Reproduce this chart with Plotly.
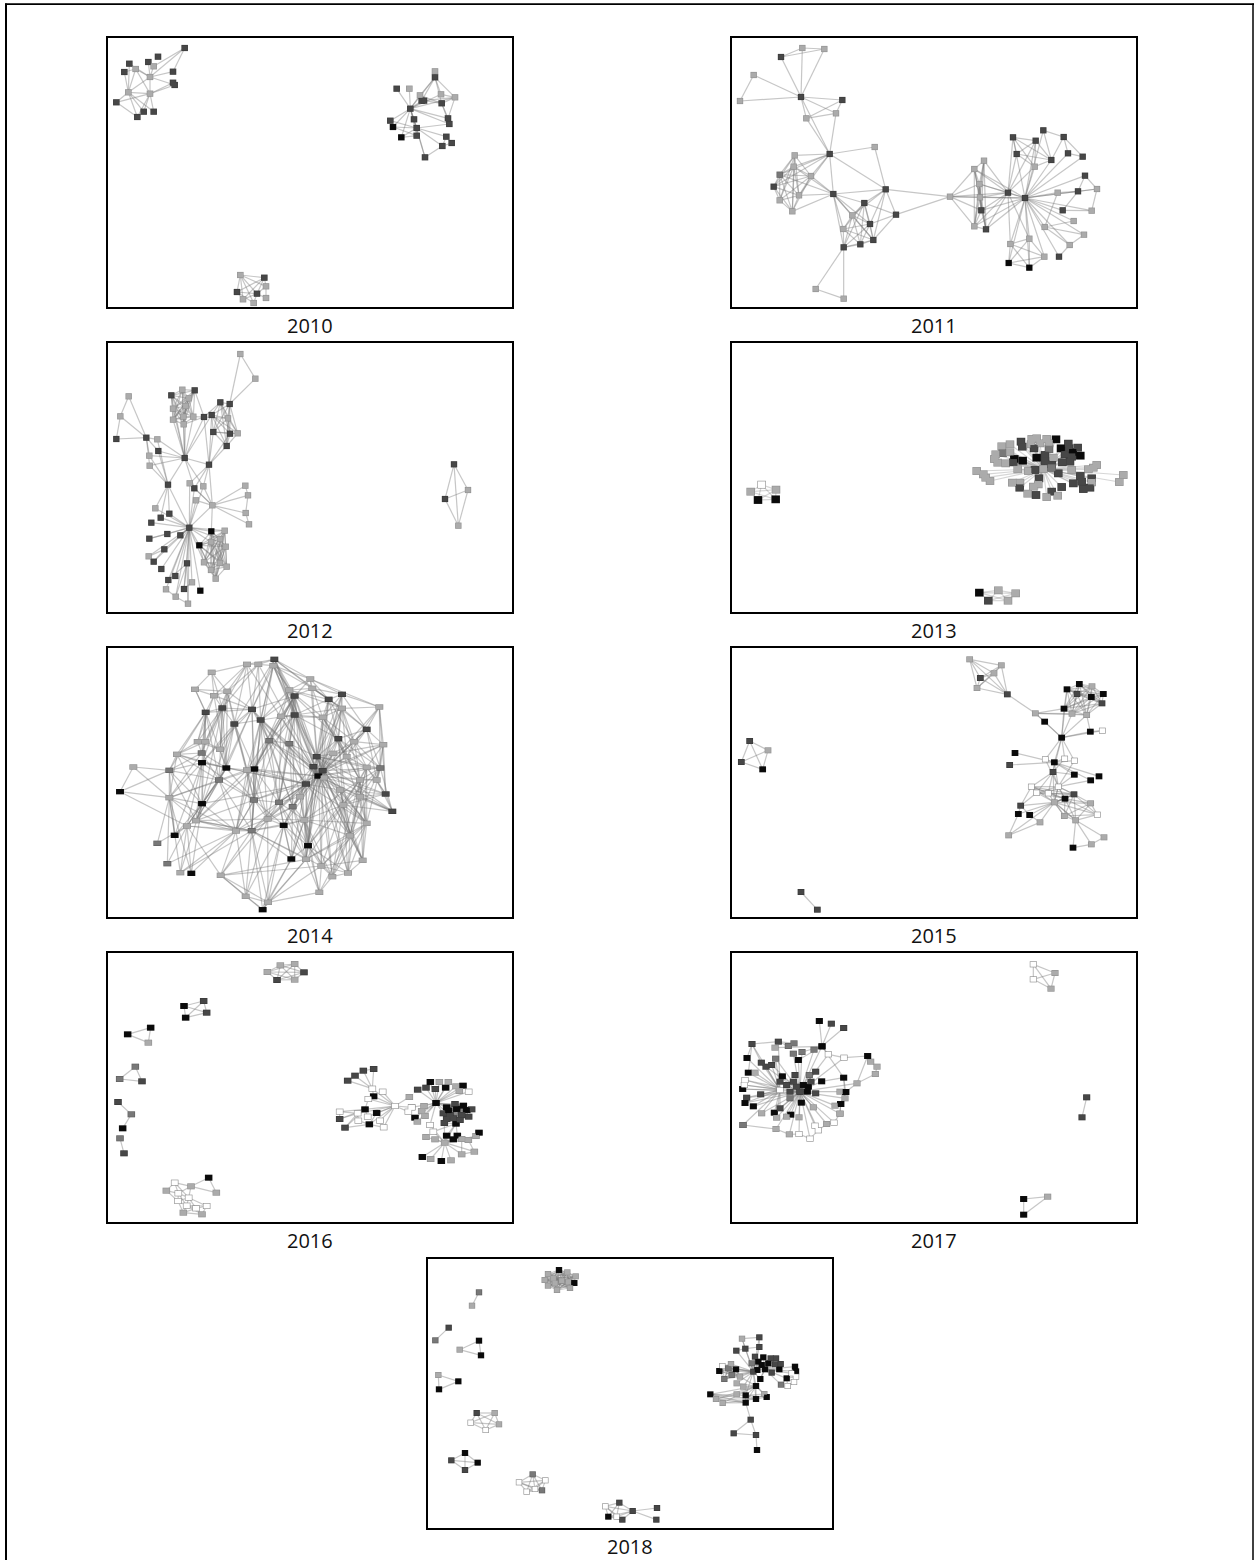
import plotly.graph_objects as go

YEARS = [2010, 2011, 2012, 2013, 2014, 2015, 2016, 2017, 2018]

# ---- node lists: (x, y, shade level 0 white .. 4 black) ----
N2010 = [(254,54,3),(174,80,3),(88,101,3),(145,96,3),(161,109,1),(107,117,1),(73,126,3),(150,141,1),(219,125,3),(219,158,3),
 (224,165,3),(85,187,1),(150,191,1),(49,217,3),(131,245,3),(161,245,3),(112,261,3),(1005,124,1),(1005,142,3),(890,176,3),
 (928,176,1),(960,196,1),(1023,193,1),(1065,202,1),(965,212,3),(972,212,3),(1025,220,3),(931,236,3),(871,272,3),(942,268,3),
 (1044,265,3),(1048,282,3),(879,291,4),(950,294,3),(950,317,3),(904,322,4),(1039,320,3),(1055,339,3),(1027,348,3),(975,382,3),
 (421,735,1),(493,743,3),(498,769,1),(411,786,3),(471,791,3),(498,804,1),(429,808,1),(461,819,1)]
L2010 = [(7,[5,4,3,8,10,2,12,11,0]),(5,[2,6,11,12]),(11,[6,13,14,16,12,15,2]),(12,[9,10,15,14,16,13]),(0,[8,4]),(13,[16]),
 (27,[19,20,21,24,25,18,22,23,30,31,29,33,28,32,35,34,39]),(18,[17,21,22,24,26]),(23,[18,22,25,26,30]),(26,[30,31,25,21]),
 (33,[28,32,31,36,38,39,34,29,35]),(39,[38]),(38,[36,37]),(36,[37]),(34,[32,35]),
 (40,[41,42,43,44,46,47]),(41,[42,44,46,43]),(42,[45,44]),(43,[46,44,47]),(44,[46,47,45])]

N2011 = [(232,54,1),(298,57,1),(168,81,3),(86,135,1),(45,213,1),(228,201,3),(352,210,3),(333,250,1),(244,265,1),(314,372,3),
 (449,351,1),(209,376,1),(206,410,1),(164,434,2),(258,438,1),(146,470,3),(222,496,1),(164,511,1),(202,544,1),(325,492,3),
 (482,478,3),(418,519,3),(513,554,3),(382,556,1),(435,582,3),(355,597,1),(445,630,3),(406,643,3),(356,652,3),(272,777,1),
 (356,806,1),(675,500,1),(777,392,1),(748,417,1),(763,462,1),(765,502,1),(769,541,3),(748,589,1),(783,598,3),(849,488,3),
 (900,504,3),(864,322,3),(932,332,3),(955,301,3),(1016,321,3),(875,372,3),(979,390,3),(929,410,1),(1029,370,3),(1073,380,3),
 (1080,437,3),(998,488,1),(1059,484,3),(1116,477,1),(1013,541,3),(1100,542,1),(1046,573,1),(959,591,1),(1077,614,1),(1034,645,1),
 (1002,680,3),(913,626,1),(856,642,1),(958,680,1),(851,699,4),(913,713,4)]
L2011 = [(5,[0,1,2,3,4,6,7,8,9]),(0,[1,2]),(2,[1]),(3,[4]),(6,[7,8]),(7,[8,9]),(8,[9]),
 (9,[10,11,12,13,14,19,20,15,16]),(10,[20]),(None,[11,12,13,14,15,16,17,18]),
 (19,[12,14,16,18,13,20,21,23,24,25,28,26]),(None,[21,23,24,25,26,27,28]),(20,[21,22,23,24,26,31]),(22,[21,24,26,31]),
 (28,[29,30]),(29,[30]),(31,[33,34,35,36,37,39,40]),(None,[32,33,34,35,36,37,38]),
 (39,[33,34,35,36,37,38,32,40,41,45,47,61,62,42]),
 (40,[33,34,35,36,37,38,42,43,46,47,48,49,50,51,52,53,54,55,56,57,58,59,60,41,61,62,63,65,64]),
 (None,[41,42,45,46,47]),(43,[44,46]),(44,[48,49,46]),(48,[49]),(50,[53,52]),(52,[53,54,51]),(53,[55]),(54,[55]),(51,[57]),
 (57,[58,56,59]),(58,[59]),(59,[60]),(None,[61,62,63,64,65])]

N2012 = [(421,57,1),(466,131,1),(86,184,1),(61,244,1),(49,312,3),(139,308,3),(172,313,1),(175,348,3),(148,362,1),(149,392,1),
 (254,369,3),(327,389,3),(204,449,3),(214,181,3),(247,164,1),(284,166,3),(266,190,1),(219,221,1),(257,213,1),(219,254,1),
 (250,245,1),(280,245,1),(251,268,1),(312,246,3),(335,240,3),(361,202,3),(389,207,3),(384,250,1),(340,291,3),(390,296,3),
 (413,295,1),(380,333,3),(269,445,1),(283,460,3),(310,454,1),(288,496,1),(337,511,1),(436,452,1),(444,481,1),(437,534,1),
 (447,568,1),(166,520,1),(208,536,3),(182,548,3),(154,563,3),(268,578,3),(202,597,3),(241,601,3),(148,611,3),(193,643,3),
 (334,589,4),(374,587,1),(360,612,1),(333,621,1),(298,631,4),(377,635,1),(146,664,1),(161,680,3),(184,702,3),(261,685,3),
 (312,682,1),(360,684,1),(380,695,1),(333,705,1),(226,723,3),(205,735,3),(347,731,1),(276,742,1),(198,763,1),(252,762,3),
 (301,767,4),(227,785,1),(264,806,1),(1062,388,3),(1104,465,1),(1035,492,3),(1075,572,1)]
L2012 = [(0,[1,26]),(1,[26]),(2,[3,5]),(3,[4,5]),(4,[5]),(5,[6,7,8,9]),
 (10,[6,7,8,9,12,13,17,19,20,22,21,18,23,24,11,33,34]),(12,[6,7,8,9,45,41,42,43]),(11,[23,24,28,31,29,36,34,33,32]),
 (None,[13,14,15,16,17,18,19,20,21,22]),(23,[15,21,22,25,27]),(None,[24,25,26,27,28,29,30,31]),
 (36,[37,38,39,40,32,33,34,35,45,50]),(37,[38]),(38,[39]),(39,[40]),
 (45,[32,33,34,35,41,42,43,44,46,47,48,49,56,57,58,59,64,65,67,68,69,70,71,72,50,51,53,52,54,60]),
 (None,[50,51,52,53,55,60,61,62,63,66,54]),(46,[48]),(49,[56,57]),(59,[65,69,72,71]),(68,[71]),(71,[72]),(67,[69]),
 (73,[74,75,76]),(74,[75,76]),(75,[76])]

N2013_LEFT = [(110,449,0),(77,470,1),(153,464,1),(99,495,4),(152,493,4)]
N2013_BOTTOM = [(763,773,4),(820,766,1),(872,775,1),(790,797,3),(849,797,1)]
N2013_MAIN = [(955,402,1),(1000,415,3),(888,320,3),(920,312,1),(935,310,1),(965,312,1),(993,313,4),(830,334,1),(855,328,1),(892,335,3),
 (918,328,1),(945,325,1),(972,325,1),(1030,326,3),(833,354,2),(855,352,1),(927,340,3),(972,342,2),(1008,340,4),(1032,340,3),
 (1058,338,3),(812,358,1),(808,372,1),(868,372,4),(893,377,4),(935,368,4),(960,360,3),(985,368,1),(1020,358,3),(1043,352,4),
 (1066,362,4),(1040,365,3),(818,383,1),(842,385,1),(865,382,3),(960,378,3),(980,388,3),(1012,382,3),(1035,380,3),(1115,390,1),
 (1105,398,1),(755,408,1),(878,403,1),(910,408,1),(930,405,3),(980,398,2),(1040,405,1),(1090,403,1),(775,418,1),(782,428,1),
 (795,438,1),(942,430,3),(1066,423,3),(1100,430,3),(1195,420,1),(1183,441,1),(862,443,1),(885,443,1),(940,448,1),(1045,445,3),
 (1070,440,3),(1100,442,1),(884,458,3),(925,455,1),(980,470,3),(1010,456,3),(1095,458,3),(1075,462,3),(908,476,1),(933,480,3),
 (965,486,1),(998,482,1)]

N2014 = [(523,58,3),(441,73,1),(475,73,1),(520,77,1),(335,97,1),(631,117,1),(285,148,1),(637,145,1),(382,154,1),(568,150,1),
 (726,163,3),(342,167,1),(584,168,3),(686,178,3),(838,201,1),(367,204,3),(456,208,3),(726,205,1),(317,217,3),(584,225,3),
 (543,229,1),(668,232,1),(482,240,3),(403,252,3),(800,268,3),(715,296,3),(293,305,1),(316,305,1),(508,302,2),(568,311,2),
 (850,314,1),(763,305,1),(360,328,1),(305,339,2),(231,343,1),(650,350,3),(306,368,4),(100,381,1),(208,391,2),(379,384,4),
 (463,387,4),(441,390,1),(841,384,2),(800,382,1),(668,392,3),(655,408,4),(672,413,1),(357,420,2),(618,432,3),(780,420,1),
 (60,455,4),(857,462,3),(208,473,1),(462,480,2),(537,487,2),(578,500,2),(306,491,4),(877,514,3),(730,495,1),(288,542,1),
 (503,537,1),(551,556,4),(613,540,1),(800,550,1),(261,558,1),(408,573,1),(455,572,2),(224,586,4),(750,587,1),(172,610,2),
 (624,617,4),(574,657,4),(618,658,1),(788,661,1),(202,671,2),(664,678,1),(241,698,1),(274,700,4),(744,699,1),(362,706,1),
 (697,710,1),(658,757,1),(437,769,1),(504,787,1),(488,809,4),(700,340,1),(640,380,3),(740,350,1),(720,450,1),(600,470,1),
 (780,470,1),(830,420,1)]
L2014 = [(45,[0,1,2,3,5,7,9,10,12,13,14,16,17,19,20,21,22,24,25,28,29,30,31,40,41,42,43,49,51,53,54,55,57,58,60,61,62,63,68,70,71,72,73,75,78,80]),
 (48,[12,16,22,28,29,40,41,53,54,55,60,61,66,65,70,71,72,56,36,39,63,68]),
 (44,[0,3,13,10,17,21,24,30,42,51,57,63,73,78,80,68,70,75]),
 (16,[0,1,2,3,8,11,15,18,22,23,28,36,39,40,47,53]),
 (15,[1,2,4,8,11,18,23,32,33,36,39,47,56,26,27]),
 (18,[6,11,26,27,33,36,39,47,56,34,38]),
 (23,[0,1,8,22,32,36,39,40,41,47,53,59]),
 (36,[34,38,52,56,59,64,67,39]),
 (40,[3,9,12,19,20,28,53,59,60,65,66,52]),
 (66,[59,64,65,79,82,83,84,53,54,61,62,71,72,75,76]),
 (65,[64,74,76,79,82,59,52,77,53]),(79,[84,82,83,75,64]),
 (52,[34,37,50,67,69,74,76,77,38]),(38,[34,37,50,67]),(37,[50]),(50,[64]),
 (64,[67,76,77,74,69]),(34,[26,27,33,39,47]),
 (71,[84,83,54,55]),(70,[72,75,78,80,81,55,54,61,62,71]),(75,[81,83,78,80,73]),(80,[81,78]),(78,[73,63,68]),(73,[63,68]),
 (0,[5,7,9,13,12,19,1,2,3]),(5,[7,10,13,14,12,9]),(10,[14,13,17,25,21,24]),(14,[24,30,51,42]),(24,[30,25,31,42]),
 (25,[19,21,17,13,12,35,48,49,43,42,58,63,68]),(30,[42,51]),(51,[57,58]),
 (1,[4,11,8]),(4,[6,11,8]),(6,[8,11,18]),(19,[9,12,20,28,29,35]),(29,[28,35,54,55]),(28,[53,54,55]),
 (35,[13,10,21,17,12,43,49,30,42,57,63,73,58,62,70,72]),(84,[83,82]),(82,[83]),
 (12,[16,22,20,28,29,40,41,53,54,60,62,9,7]),(22,[0,3,9,19,28,29,41,53,54,55,60,65,66]),
 (53,[36,39,41,47,54,60,65,66,59,61]),(54,[19,20,40,61,62,60,72]),(55,[19,61,62,60,72,66]),
 (42,[31,43,49,58,63,68,57]),(43,[31,49,58,63,68,73,30,51]),(49,[17,21,31,58,63,68,78,73,80,70,62]),
 (58,[62,63,68,70,72,73,75,78,80,57]),(63,[62,68,72,75,80]),(68,[62,72,75,80,81]),(62,[72,75,80,81,71,61]),
 (13,[7,9,17,19,21,31,24]),(17,[7,9,19,21,31,24,14]),(21,[7,9,19,20,31]),(31,[30,14]),
 (39,[8,11,32,33,41,47,56,59,64]),(41,[8,47,59,65,66,60]),(47,[38,52,56,59,64,65,66]),(56,[34,38,52,59,64,65,67,76,77]),
 (33,[26,27,38,47,52]),(59,[52,64,66,60,38]),(60,[61,62,65,82,83,79]),(61,[71,72,84,83,82]),(72,[81,83,79,84]),(83,[81]),
 (26,[27,32,11]),(8,[11,32,27]),(27,[32]),(2,[3,1,8,22]),(3,[12,19,7,5,9]),(9,[7,20]),(7,[10,13]),
 (85,[25,31,44,45,48,58,62]),(86,[44,45,48,28,29,54,55,70]),(87,[17,21,24,25,31,43,44,45,49]),(88,[44,45,48,51,57,58,63,68,70]),
 (89,[45,48,29,54,55,62,70]),(90,[42,43,49,51,57,58,63,68,45]),(91,[24,30,42,43,45,49,51,57])]

N2015 = [(734,58,1),(829,76,1),(807,100,1),(766,114,3),(756,144,1),(847,163,3),(1063,132,4),(1101,139,1),(1026,148,4),(1056,162,3),
 (1135,162,4),(1099,171,4),(1131,190,3),(1017,206,4),(931,220,1),(1041,221,1),(1085,225,1),(959,245,4),(1096,275,4),(1132,272,0),
 (1010,293,4),(870,339,4),(854,375,3),(961,358,0),(988,367,4),(1019,356,0),(1048,362,0),(984,396,3),(1048,404,4),(1097,421,4),
 (1122,409,4),(919,440,0),(1000,440,0),(935,458,0),(970,460,0),(1047,463,3),(1020,476,4),(988,487,1),(1097,490,1),(887,497,3),
 (880,522,4),(914,525,4),(1018,528,1),(1052,541,1),(1117,524,0),(945,547,1),(851,586,1),(1137,592,1),(1099,613,1),(1044,623,4),
 (74,303,3),(129,331,1),(49,366,3),(113,388,4),(228,756,3),(277,809,3)]
L2015 = [(None,[0,1,2,3,4,5]),(5,[14]),(14,[13,15,17,16]),(20,[14,13,15,16,17,18,19,23,24,25,26,27,8]),
 (None,[6,7,8,9,10,11,12,13,15,16]),(18,[19,16]),(21,[24]),(22,[24]),(24,[23,25,26,27,28,29,30,32]),
 (27,[31,33,34,28,25,32,37]),(32,[28,29,36,35,23,26,37]),(None,[31,33,34,36,37,32,35]),
 (37,[39,40,41,45,46,42,43]),(39,[41,40,33,31]),(40,[46]),(41,[45]),(45,[46]),(None,[36,35,38,42,43,44,37]),
 (43,[47,48,49]),(47,[48]),(48,[49]),(None,[50,51,52,53]),(54,[55])]

N2016_TOP = [(502,81,1),(541,61,1),(584,57,1),(612,82,3),(531,105,3),(584,104,1)]
N2016_A = [(252,183,4),(311,168,3),(320,203,3),(257,218,4)]
N2016_B = [(83,268,4),(152,248,4),(145,293,1)]
N2016_C = [(106,365,2),(59,402,2),(126,409,3)]
N2016_D = [(54,471,3),(94,508,2),(68,550,4)]
N2016_E = [(60,580,2),(72,625,3)]
N2016_F = [(326,698,4),(224,713,0),(273,724,1),(199,737,1),(349,743,1),(235,745,0),(266,758,0),(234,768,0),(260,782,0),(320,783,0),(250,803,1),(306,808,1),(288,790,0)]
L2016_F = [(0,[2,4]),(2,[1,4,5,6]),(1,[3,5,6]),(3,[5,7]),(5,[6,7,8]),(6,[7,8,9,12]),(7,[8,10]),(8,[9,10,11,12]),(9,[11,12]),(10,[11,12]),(11,[12])]
N2016_MID = [(885,483,0),(743,407,3),(765,392,3),(790,377,3),(821,372,3),(817,431,0),(848,440,0),(821,454,4),(805,462,0),(795,493,4),
 (830,504,4),(719,500,0),(803,515,0),(719,522,3),(840,527,0),(808,538,4),(735,548,3),(851,547,0),(773,505,0),(775,527,0),
 (928,456,1),(935,487,0),(925,500,0)]
L2016_MID = [(0,[5,6,7,8,9,10,12,14,17,18,20,21,22,15]),(5,[1,2,3,4,7]),(1,[2]),(2,[3]),(3,[4]),(9,[11,13,16,12,18,8]),(11,[13]),(18,[11,13,19,16]),(15,[16,19,10,17])]
N2016_RIGHT = [(1008,474,4),(953,434,3),(978,428,3),(991,411,4),(1006,432,3),(1018,411,1),(1045,411,1),(1037,428,4),(1068,424,1),(1089,422,4),
 (1078,438,1),(1106,440,0),(972,483,1),(965,498,1),(975,513,1),(945,518,4),(952,530,1),(990,540,0),(1000,560,0),(1033,534,3),
 (1068,536,4),(1040,487,4),(1065,477,3),(1090,482,4),(1115,493,3),(1030,505,3),(1050,510,3),(1070,492,4),(1100,495,4),(1085,510,3),
 (1106,515,3),(1045,497,4),(1060,520,3),(1080,525,3),(1040,522,3),(978,576,1),(1005,583,1),(1040,572,4),(1072,572,4),(1060,583,4),
 (1034,593,1),(1085,582,1),(1105,585,1),(1128,573,1),(1137,563,4),(1085,628,1),(1123,620,1),(967,636,4),(992,642,1),(1024,648,4),
 (1053,646,1),(935,487,0)]
L2016_RIGHT = [(0,[1,2,3,4,5,6,7,8,9,10,11,12,13,14,15,16,17,51,21,22,23,24,25,26,27]),
 (40,[47,48,49,50,35,36,37,38,39,41,42,45,46,17,18,19,20]),(None,[21,22,23,24,25,26,27,28,29,30,31,32,33,34]),
 (20,[19,38,37,18]),(43,[44,41,42]),(45,[46,41]),(42,[46])]

N2017_TR = [(925,58,0),(990,84,1),(925,103,0),(978,131,1)]
N2017_R = [(1085,457,3),(1071,517,3)]
N2017_BR = [(896,762,4),(968,755,1),(896,809,4)]
N2017_MAIN = [(225,440,3),(165,435,0),(291,304,4),(283,228,4),(319,236,3),(356,249,3),(81,297,3),(160,290,3),(190,303,2),(207,295,2),
 (267,314,2),(231,321,2),(205,326,2),(150,308,1),(220,345,4),(66,339,4),(152,341,2),(109,353,3),(123,365,3),(140,360,3),
 (70,383,4),(90,383,1),(172,394,4),(210,390,3),(253,390,2),(272,380,3),(356,398,4),(290,409,4),(53,432,4),(60,405,0),
 (58,420,0),(165,410,3),(185,420,3),(205,410,3),(215,425,3),(235,420,4),(250,425,4),(258,410,3),(195,440,3),(247,440,4),
 (272,445,3),(107,448,3),(65,458,3),(60,474,4),(85,484,4),(195,460,2),(229,473,4),(362,441,4),(345,440,1),(360,460,1),
 (347,477,4),(330,482,1),(265,487,1),(345,506,1),(110,505,1),(148,503,4),(197,509,4),(165,490,3),(155,518,1),(185,515,1),
 (222,517,1),(54,540,2)]
L2017_MAIN = [(0,[2,10,11,12,14,16,18,19,22,23,24,25,27,28,29,30,31,32,33,34,35,36,37,38,39,40,41,42,43,44,45,46,48,49,51,52,54,55,56,57,58,59,60]),(1,[6,7,15,20,21,28,29,30,41,42,43,44,54,55,57,58,61,16,17,18,19]),(2,[3,4,5,10,11,13,14,26]),(6,[7,17,15,20]),(7,[8,9,13]),(26,[27,47,49]),(47,[48,49,50]),(50,[51,53])]
N2017_RING = [(225,440,3),(54,540,2),(153,552,1),(193,568,1),(222,567,0),(255,581,0),(280,556,0),(270,542,0),(305,537,1),(327,533,0),
 (345,506,1),(347,477,4),(362,441,4),(396,415,1),(451,387,1),(456,365,1),(437,350,1),(428,333,4),(357,338,0),(310,328,0),(291,304,4)]
L2017_RING = [(0,[2,3,4,5,6,7,8,9,10,13,18,19]),(1,[2]),(2,[3]),(3,[4]),(4,[5]),(5,[6]),(6,[7,8]),(8,[9]),(9,[10]),(10,[11]),(11,[12]),(12,[13]),(13,[14,17]),(14,[15]),(15,[16]),(16,[17]),(17,[18]),(18,[19]),(19,[20])]

N2018_A = [(177,127,2),(156,167,1)]
N2018_B = [(86,233,3),(46,271,2)]
N2018_C = [(177,272,4),(119,299,1),(183,316,4)]
N2018_D = [(55,375,1),(115,394,4),(57,418,4)]
N2018_E = [(170,489,3),(224,489,1),(152,518,0),(237,523,1),(197,540,0)]
N2018_F = [(135,609,4),(94,631,3),(173,638,4),(135,660,3)]
N2018_G = [(338,673,2),(297,697,0),(376,691,0),(320,725,0),(345,717,0),(366,721,2)]
N2018_H = [(598,758,3),(556,769,0),(638,783,3),(565,800,4),(590,800,0),(607,809,3),(711,774,3),(709,809,3)]
L2018_H = [(2,[0,1,3,4,5,6,7]),(0,[1,3,4]),(1,[3,4,5]),(3,[4,5]),(4,[5])]
N2018_TOP = [(417,60,4),(384,72,1),(442,67,1),(467,79,1),(374,90,1),(400,85,1),(425,92,1),(445,95,1),(463,99,4),(384,107,1),(411,120,1),(450,114,1),(405,100,1)]
N2018_MAIN = [(1000,365,3),(1035,358,4),(966,266,1),(1018,262,3),(976,296,3),(1018,291,3),(949,302,3),(1005,320,3),(1030,322,4),(1052,325,3),
 (1068,325,3),(995,340,2),(1015,335,4),(1045,340,4),(1065,343,3),(1082,342,3),(1012,360,4),(1055,368,3),(1078,358,4),(1025,345,4),
 (933,342,1),(907,348,0),(925,355,2),(948,358,4),(898,363,4),(935,375,2),(913,387,2),(960,380,1),(1125,350,4),(1128,364,4),
 (1115,370,0),(1128,380,0),(1100,385,4),(1122,396,0),(1103,408,0),(1083,404,2),(1021,387,4),(1008,408,4),(950,400,1),(970,410,1),
 (871,433,4),(888,447,1),(908,459,1),(950,433,1),(977,436,4),(977,458,4),(1008,447,4),(1033,432,1),(1040,441,4),(992,509,3),
 (941,550,3),(1008,555,3),(1011,600,4)]
L2018_MAIN = [(0,[2,3,4,5,6,7,8,9,11,12,13,16,19,20,21,22,23,24,25,26,27,36,37,38,39,44,46]),
 (1,[7,8,9,10,11,12,13,14,15,16,17,18,19,28,29,32,35,36,37,30]),(2,[3,4]),(4,[5,6]),(3,[5]),
 (None,[20,21,22,23,24,25,26,27]),(32,[28,29,30,31,33,34,35]),(33,[34]),
 (37,[38,39,40,41,42,43,44,45,46,47,48,27]),(40,[41,44,45,46]),(41,[42,43,45,46]),(42,[45,46]),(44,[45,46,47,48]),(46,[47,48]),
 (45,[49]),(49,[50,51]),(50,[51]),(51,[52])]

# ---- panels: year -> list of (nodes, links). A link is (hub, neighbours);
#      hub None = every pair in the list is linked; neighbours None = all others.
PANELS = {
 2010: [(N2010, L2010)],
 2011: [(N2011, L2011)],
 2012: [(N2012, L2012)],
 2013: [(N2013_LEFT, [(None, [0,1,2,3,4])]), (N2013_BOTTOM, [(None, [0,1,2,3,4])]), (N2013_MAIN, [(0, None)])],
 2014: [(N2014, L2014)],
 2015: [(N2015, L2015)],
 2016: [(N2016_TOP, [(None, [0,1,2,3,4,5])]), (N2016_A, [(None, [0,1,2,3])]), (N2016_B, [(None, [0,1,2])]), (N2016_C, [(None, [0,1,2])]),
        (N2016_D, [(0,[1]),(1,[2])]), (N2016_E, [(0,[1])]), (N2016_F, L2016_F), (N2016_MID, L2016_MID), (N2016_RIGHT, L2016_RIGHT)],
 2017: [(N2017_TR, [(None, [0,1,2,3])]), (N2017_R, [(0,[1])]), (N2017_BR, [(None, [0,1,2])]), (N2017_MAIN, L2017_MAIN), (N2017_RING, L2017_RING)],
 2018: [(N2018_A, [(0,[1])]), (N2018_B, [(0,[1])]), (N2018_C, [(None, [0,1,2])]), (N2018_D, [(None, [0,1,2])]), (N2018_E, [(None, [0,1,2,3,4])]),
        (N2018_F, [(None, [0,1,2,3])]), (N2018_G, [(None, [0,1,2,3,4,5])]), (N2018_H, L2018_H),
        (N2018_TOP, [(None, [0,1,2,3,4,5,6,7,8,9,10,11,12])]), (N2018_MAIN, L2018_MAIN)],
}

# ---- page layout (pixels) ----
W, H = 1254, 1560
BOX_W, BOX_H = 406, 271
PLACE = {2010:(107,37,100,30), 2011:(731,37,725,30), 2012:(107,342,100,335), 2013:(731,342,725,335), 2014:(107,647,100,640),
         2015:(731,647,725,640), 2016:(107,952,100,945), 2017:(731,952,725,945), 2018:(427,1258,420,1250)}
MARK = {2010:(5.4,5), 2011:(5.2,5), 2012:(5.2,5), 2013:(7.4,6.6), 2014:(6.8,4.2), 2015:(5.6,4.8), 2016:(6.4,4.8), 2017:(6,4.8), 2018:(5.2,4.8)}
EDGE_ALPHA = {2013: 0.3, 2014: 0.42}
WIDTH_TO_SIZE = 0.707   # line-ew marker is sqrt(2) x size wide
FILL = ['#ffffff', '#ababab', '#787878', '#474747', '#0a0a0a']
EDGE = ['#8c8c8c', '#8f8f8f', '#5c5c5c', '#383838', '#111111']

fig = go.Figure()
layout = {}
for i, year in enumerate(YEARS, start=1):
    L, T, ox, oy = PLACE[year]
    xa, ya = f'x{i}', f'y{i}'
    ex, ey, nx, ny, lv = [], [], [], [], []
    for nodes, links in PANELS[year]:
        pairs = []
        for hub, nb in links:
            if hub is None:
                pairs += [(a, b) for k, a in enumerate(nb) for b in nb[k+1:]]
            else:
                others = nb if nb is not None else [j for j in range(len(nodes)) if j != hub]
                pairs += [(hub, b) for b in others]
        for a, b in pairs:
            ex += [nodes[a][0], nodes[b][0], None]
            ey += [nodes[a][1], nodes[b][1], None]
        nx += [n[0] for n in nodes]
        ny += [n[1] for n in nodes]
        lv += [n[2] for n in nodes]
    fig.add_trace(go.Scatter(x=ex, y=ey, mode='lines', xaxis=xa, yaxis=ya, hoverinfo='skip', showlegend=False,
                             line=dict(color=f'rgba(120,120,120,{EDGE_ALPHA.get(year, 0.42)})', width=1.2)))
    w, h = MARK[year]
    fig.add_trace(go.Scatter(x=nx, y=ny, mode='markers', xaxis=xa, yaxis=ya, hoverinfo='skip', showlegend=False,
                             marker=dict(symbol='line-ew', size=(w + 1.2) * WIDTH_TO_SIZE, line=dict(width=h + 1.2, color=[EDGE[v] for v in lv]))))
    fig.add_trace(go.Scatter(x=nx, y=ny, mode='markers', xaxis=xa, yaxis=ya, hoverinfo='skip', showlegend=False,
                             marker=dict(symbol='line-ew', size=w * WIDTH_TO_SIZE, line=dict(width=h, color=[FILL[v] for v in lv]))))
    axis = dict(showgrid=False, zeroline=False, showticklabels=False, ticks='', showline=True, mirror=True,
                linecolor='#000000', linewidth=2.4)
    x0, x1, y0, y1 = L + 1, L + BOX_W - 1, T + 1, T + BOX_H - 1
    layout[f'xaxis{i}'] = dict(axis, domain=[x0 / W, x1 / W], range=[(x0 - ox) * 3, (x1 - ox) * 3], anchor=ya)
    layout[f'yaxis{i}'] = dict(axis, domain=[1 - y1 / H, 1 - y0 / H], range=[(y1 - oy) * 3, (y0 - oy) * 3], anchor=xa)

annotations = [dict(text=str(y), xref='paper', yref='paper', x=(PLACE[y][0] + BOX_W / 2) / W, y=1 - (PLACE[y][1] + BOX_H + 17) / H,
                    xanchor='center', yanchor='middle', showarrow=False, font=dict(family='Open Sans', size=20, color='#111111'))
               for y in YEARS]
frame = [dict(type='line', xref='paper', yref='paper', x0=a, x1=b, y0=c, y1=d, line=dict(color='#000000', width=w))
         for a, b, c, d, w in [(6/W, 6/W, 0, 1-3.5/H, 2), (1253/W, 1253/W, 0, 1-3.5/H, 1.5), (5/W, 1254/W, 1-4.2/H, 1-4.2/H, 1.7)]]

fig.update_layout(width=W, height=H, margin=dict(l=0, r=0, t=0, b=0), paper_bgcolor='white', plot_bgcolor='white',
                  showlegend=False, annotations=annotations, shapes=frame, **layout)
fig.write_html('out.html', config={'displayModeBar': False},
               post_script="document.body.style.margin='0';document.body.style.overflow='hidden';")
